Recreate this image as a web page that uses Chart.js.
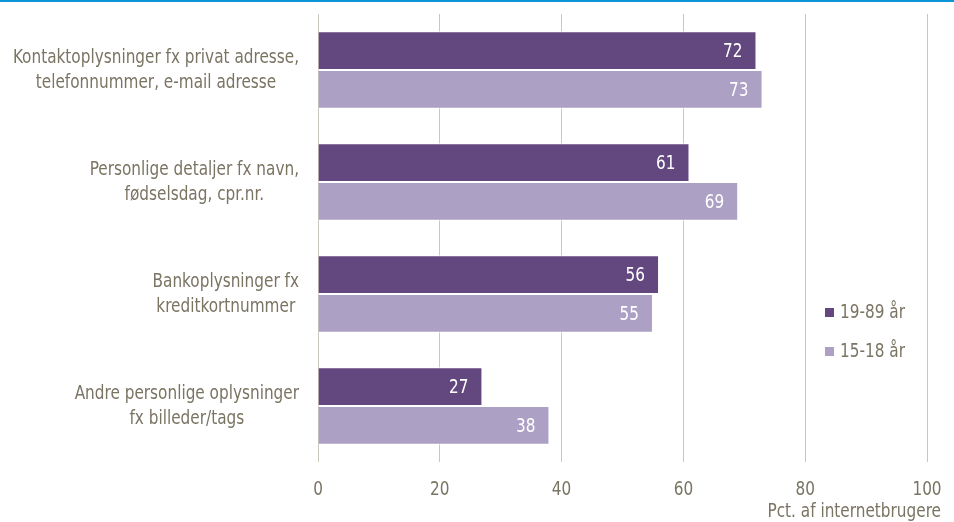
<!DOCTYPE html>
<html>
<head>
<meta charset="utf-8">
<script src="https://cdn.jsdelivr.net/npm/chart.js@4.4.1/dist/chart.umd.min.js"></script>
<style>
  html, body { margin: 0; padding: 0; background: #fff; }
  #wrap { width: 954px; height: 522px; position: relative; }
</style>
</head>
<body>
<div id="wrap"><canvas id="chart"></canvas></div>
<script>
const categories = [
    ["Kontaktoplysninger fx privat adresse,", "telefonnummer, e-mail adresse"],
    ["Personlige detaljer fx navn,", "fødselsdag, cpr.nr."],
    ["Bankoplysninger fx", "kreditkortnummer"],
    ["Andre personlige oplysninger", "fx billeder/tags"]
];
const seriesNames = ["19-89 år", "15-18 år"];
const adults = [72, 61, 56, 27];
const teens = [73, 69, 55, 38];
const xTicks = [0, 20, 40, 60, 80, 100];
const axisTitle = "Pct. af internetbrugere";

const colors = ["#634880", "#aca0c5"];
const textColor = "#7a7463";
const fontFamily = "'Liberation Sans Narrow', 'DejaVu Sans Condensed', sans-serif";
const fontSize = 20;
const squeeze = 0.85; // narrow the fallback font to look like the condensed original

// draw text horizontally squeezed, anchored like normal fillText
function narrowText(ctx, text, x, y, align) {
    const w = ctx.measureText(text).width * squeeze;
    let left = x;
    if (align === "center") left = x - w / 2;
    if (align === "right") left = x - w;
    ctx.save();
    ctx.textAlign = "left";
    ctx.translate(left, y);
    ctx.scale(squeeze, 1);
    ctx.fillText(text, 0, 0);
    ctx.restore();
}

const decorPlugin = {
    id: "decor",
    beforeDraw(chart) {
        const ctx = chart.ctx;
        ctx.save();
        ctx.fillStyle = "#0a96d6";
        ctx.fillRect(0, 0, chart.width, 2);
        ctx.restore();
    },
    afterDraw(chart) {
        const ctx = chart.ctx;
        const yScale = chart.scales.y;
        const xScale = chart.scales.x;
        ctx.save();
        ctx.font = `${fontSize}px ${fontFamily}`;
        ctx.textBaseline = "middle";

        // category labels, lines centred in a block ending at the right
        const lineH = 25;
        categories.forEach((lines, i) => {
            const cy = yScale.getPixelForValue(i);
            const widest = Math.max(...lines.map(l => ctx.measureText(l).width)) * squeeze;
            const blockCenter = 299 - widest / 2;
            ctx.fillStyle = textColor;
            lines.forEach((l, j) => {
                narrowText(ctx, l, blockCenter, cy + (j - (lines.length - 1) / 2) * lineH, "center");
            });
        });

        // x tick labels
        ctx.fillStyle = textColor;
        xTicks.forEach(v => {
            narrowText(ctx, String(v), xScale.getPixelForValue(v), xScale.top + 28, "center");
        });

        // value labels inside bars
        ctx.fillStyle = "#ffffff";
        chart.data.datasets.forEach((ds, di) => {
            chart.getDatasetMeta(di).data.forEach((bar, i) => {
                narrowText(ctx, String(ds.data[i]), bar.x - 14, bar.y + 1, "right");
            });
        });

        // legend
        seriesNames.forEach((name, i) => {
            const y = 313 + i * 39;
            ctx.fillStyle = colors[i];
            ctx.fillRect(825, y - 5, 9, 9);
            ctx.fillStyle = textColor;
            narrowText(ctx, name, 840, y, "left");
        });

        // axis title
        ctx.fillStyle = textColor;
        narrowText(ctx, axisTitle, 941, xScale.top + 50, "right");
        ctx.restore();
    }
};

new Chart(document.getElementById("chart"), {
    type: "bar",
    data: {
        labels: categories.map(c => c.join(" ")),
        datasets: [
            { label: seriesNames[0], data: adults, backgroundColor: colors[0], borderColor: "#ffffff", borderWidth: 1 },
            { label: seriesNames[1], data: teens, backgroundColor: colors[1], borderColor: "#ffffff", borderWidth: 1 }
        ]
    },
    options: {
        indexAxis: "y",
        responsive: true,
        maintainAspectRatio: false,
        animation: false,
        datasets: { bar: { categoryPercentage: 0.69, barPercentage: 1 } },
        layout: { padding: { left: 310, right: 27, top: 14, bottom: 0 } },
        plugins: { legend: { display: false }, tooltip: { enabled: false } },
        scales: {
            x: {
                min: 0,
                max: 100,
                afterBuildTicks(scale) { scale.ticks = xTicks.map(v => ({ value: v })); },
                afterFit(scale) { scale.height = 60; },
                grid: { color: "#cbc7bd", lineWidth: 1, drawTicks: false },
                border: { display: false },
                ticks: { display: false }
            },
            y: {
                ticks: { display: false },
                grid: { display: false },
                border: { display: false }
            }
        }
    },
    plugins: [decorPlugin]
});
</script>
</body>
</html>
